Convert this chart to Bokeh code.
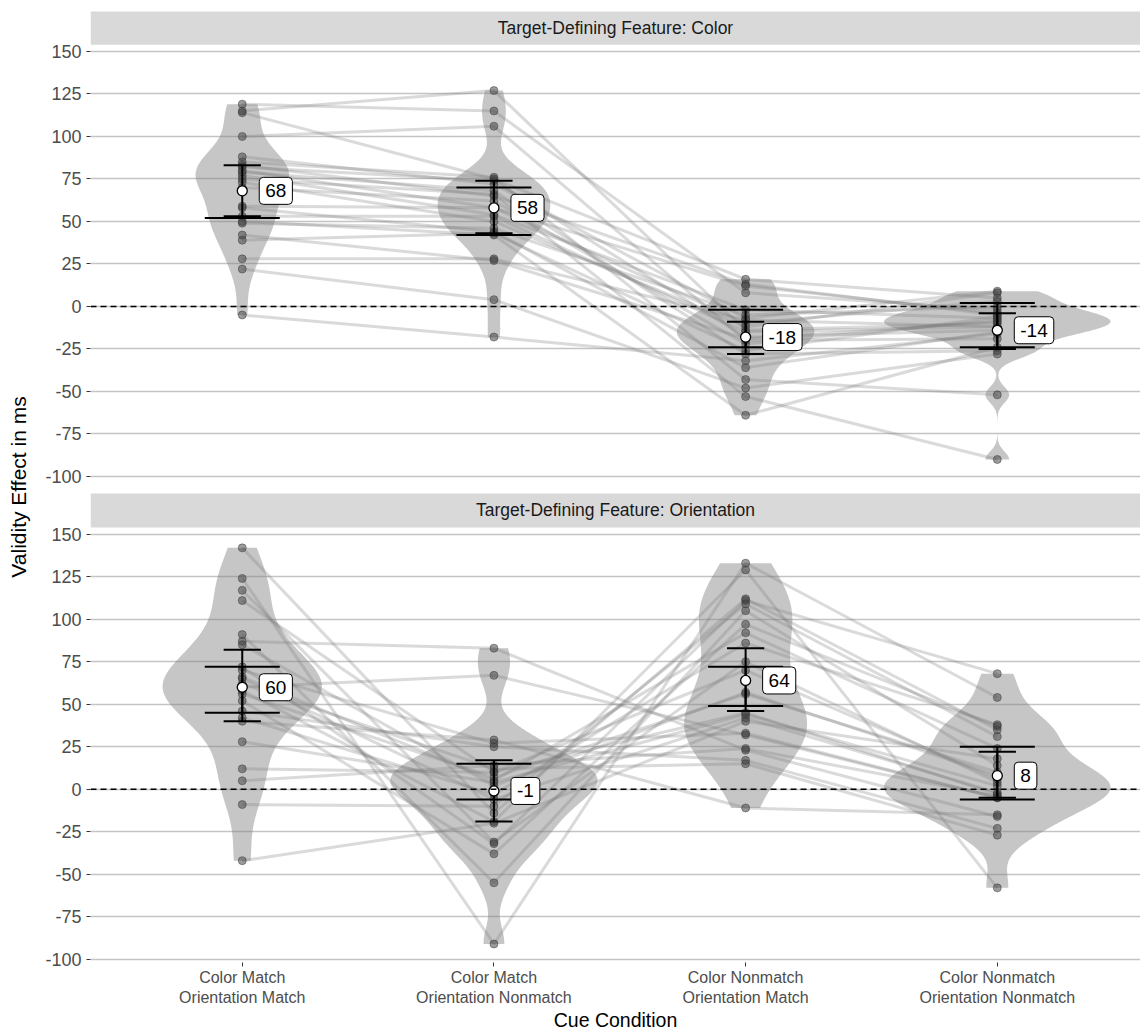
import numpy as np
from bokeh.plotting import figure
from bokeh.models import Range1d, FixedTicker, Grid, BoxAnnotation, Span, Label
from bokeh.embed import file_html
from bokeh.resources import INLINE

# ---------------------------------------------------------------- data
conditions = [
    "Color Match\nOrientation Match",
    "Color Match\nOrientation Nonmatch",
    "Color Nonmatch\nOrientation Match",
    "Color Nonmatch\nOrientation Nonmatch",
]
panel_titles = ["Target-Defining Feature: Color", "Target-Defining Feature: Orientation"]

# validity effect (ms) per participant; same participant order in every list
color_cm_om = [119, 115, 114, 100, 88, 85, 83, 82, 80, 79, 77, 75, 73, 70, 59, 58, 53, 50, 49, 42, 39, 28, 22, -5]
color_cm_on = [115, 127, 75, 106, 72, 76, 65, 74, 58, 68, 54, 66, 50, 62, 58, 44, 53, 42, 46, 27, 43, 28, 4, -18]
color_cn_om = [8, -14, 16, -20, -7, -43, 13, -18, -10, -28, -2, -53, -12, -22, 12, -36, -15, -64, -5, -19, -26, -8, -48, -32]
color_cn_on = [-2, -10, 5, -19, 9, -52, -5, -14, 3, -26, -7, -90, 8, -8, -4, -15, -12, -24, 0, -9, -6, -12, -28, -16]

orient_cm_om = [142, 124, 117, 111, 91, 87, 85, 72, 70, 66, 65, 62, 60, 58, 56, 52, 46, 42, 40, 28, 12, 5, -9, -42]
orient_cm_on = [-14, -91, -31, 10, -55, 83, 2, -32, 27, 5, -6, 12, 67, -19, 7, -38, 25, -3, 29, 4, 10, 14, -10, -20]
orient_cn_om = [112, 133, 75, 45, 105, 23, 57, 111, 33, 92, 42, 15, 32, 129, 56, 97, 17, 86, -11, 44, 70, 24, 109, 40]
orient_cn_on = [35, 54, 4, -3, 14, -16, 8, 68, -5, 24, -2, -27, -5, -58, 10, 37, -23, 38, -15, 2, 6, -4, 31, 18]

# condition means and two interval estimates (wide / narrow whiskers)
color_means = [68, 58, -18, -14]
color_wide_lo = [52, 42, -24, -24]
color_wide_hi = [float("nan"), 70, -2, 2]
color_narrow_lo = [53, 43, -28, -25]
color_narrow_hi = [83, 74, -9, -4]

orient_means = [60, -1, 64, 8]
orient_wide_lo = [45, -6, 49, -6]
orient_wide_hi = [72, 15, 72, 25]
orient_narrow_lo = [40, -19, 46, -5]
orient_narrow_hi = [82, 17, 83, 22]

y_ticks = [-100, -75, -50, -25, 0, 25, 50, 75, 100, 125, 150]

# ---------------------------------------------------------------- layout
FONT = "Liberation Sans"
cats = [1, 2, 3, 4]
PANEL_SHIFT = 284          # lower panel sits this many units below the upper one
STRIP_LO, STRIP_HI = 154, 174
X_LO, X_HI = 0.397, 4.569

p = figure(width=1140, height=1034,
           x_range=Range1d(X_LO, X_HI),
           y_range=Range1d(-385.9, 173.5),
           output_backend="svg", toolbar_location=None,
           min_border_left=90, min_border_right=0,
           min_border_top=11, min_border_bottom=72)
p.extra_y_ranges = {"lower": Range1d(-385.9 + PANEL_SHIFT, 173.5 + PANEL_SHIFT)}
p.outline_line_color = None
p.xgrid.visible = False
p.ygrid.visible = False
p.background_fill_color = "white"

# axes
p.yaxis.ticker = FixedTicker(ticks=y_ticks + [t - PANEL_SHIFT for t in y_ticks])
overrides = {t: str(t) for t in y_ticks}
overrides.update({t - PANEL_SHIFT: str(t) for t in y_ticks})
p.yaxis.major_label_overrides = overrides
p.xaxis.ticker = FixedTicker(ticks=cats)
p.xaxis.major_label_overrides = {c: lab for c, lab in zip(cats, conditions)}
for ax in (p.xaxis, p.yaxis):
    ax.axis_line_color = None
    ax.major_tick_line_color = "#333333"
    ax.major_tick_in = 0
    ax.major_tick_out = 4
    ax.minor_tick_line_color = None
    ax.major_label_text_font = FONT
    ax.major_label_text_color = "#4D4D4D"
    ax.axis_label_text_font = FONT
    ax.axis_label_text_font_style = "normal"
    ax.axis_label_text_color = "black"
p.yaxis.major_label_text_font_size = "18px"
p.yaxis.major_label_standoff = 5
p.yaxis.axis_label = "Validity Effect in ms"
p.yaxis.axis_label_text_font_size = "21px"
p.yaxis.axis_label_standoff = 12
p.xaxis.major_label_text_font_size = "16px"
p.xaxis.major_label_standoff = 2
p.xaxis.axis_label = "Cue Condition"
p.xaxis.axis_label_text_font_size = "19.5px"
p.xaxis.axis_label_standoff = 0


def violin(vals):
    v = np.asarray(vals, dtype=float)
    n = len(v)
    iqr = np.subtract(*np.percentile(v, [75, 25]))
    bw = 0.9 * min(v.std(ddof=1), iqr / 1.34) * n ** -0.2
    grid = np.linspace(v.min(), v.max(), 256)
    dens = np.exp(-0.5 * ((grid[:, None] - v[None, :]) / bw) ** 2).sum(1) / (n * bw * np.sqrt(2 * np.pi))
    return grid, dens


panels = [
    (None, panel_titles[0], [color_cm_om, color_cm_on, color_cn_om, color_cn_on],
     color_means, color_wide_lo, color_wide_hi, color_narrow_lo, color_narrow_hi),
    ("lower", panel_titles[1], [orient_cm_om, orient_cm_on, orient_cn_om, orient_cn_on],
     orient_means, orient_wide_lo, orient_wide_hi, orient_narrow_lo, orient_narrow_hi),
]

for rng, title, groups, means, wlo, whi, nlo, nhi in panels:
    kw = {"y_range_name": rng} if rng else {}

    # horizontal grid lines
    p.add_layout(Grid(dimension=1, ticker=FixedTicker(ticks=y_ticks),
                      grid_line_color="#C4C4C4", grid_line_width=1.4, **kw))

    # facet strip
    p.add_layout(BoxAnnotation(bottom=STRIP_LO, top=STRIP_HI, fill_color="#D9D9D9",
                               fill_alpha=1, line_color=None, level="underlay", **kw))
    p.add_layout(Label(x=(X_LO + X_HI) / 2, y=(STRIP_LO + STRIP_HI) / 2, text=title,
                       text_align="center", text_baseline="middle", text_font=FONT,
                       text_font_size="17.5px", text_color="#1A1A1A", **kw))

    # violins (density scaled to the widest one in the panel)
    dens_all = [violin(g) for g in groups]
    dmax = max(d.max() for _, d in dens_all)
    xs, ys = [], []
    for c, (grid, d) in zip(cats, dens_all):
        hw = 0.45 * d / dmax
        xs.append(list(c - hw) + list(c + hw[::-1]))
        ys.append(list(grid) + list(grid[::-1]))
    p.patches(xs, ys, fill_color="#808080", fill_alpha=0.45, line_color=None, **kw)

    # participant lines
    n = len(groups[0])
    p.multi_line([cats] * n, [[g[i] for g in groups] for i in range(n)],
                 line_color="#7A7A7A", line_alpha=0.28, line_width=3, **kw)

    # participant points
    px = [c for c, g in zip(cats, groups) for _ in g]
    py = [v for g in groups for v in g]
    p.scatter(px, py, size=8, fill_color="#3C3C3C", fill_alpha=0.5,
              line_color="#3C3C3C", line_alpha=0.5, **kw)

    # zero reference
    p.add_layout(Span(location=0, dimension="width", line_color="black",
                      line_dash="6 4", line_width=1.6, **kw))

    # interval whiskers
    for lo, hi, half in ((wlo, whi, 0.149), (nlo, nhi, 0.074)):
        p.segment(cats, lo, cats, hi, line_color="black", line_width=2, **kw)
        p.segment([c - half for c in cats], lo, [c + half for c in cats], lo,
                  line_color="black", line_width=2, **kw)
        p.segment([c - half for c in cats], hi, [c + half for c in cats], hi,
                  line_color="black", line_width=2, **kw)

    # means and their labels
    p.scatter(cats, means, size=10, fill_color="white", line_color="black",
              line_width=1.3, **kw)
    for c, m in zip(cats, means):
        p.add_layout(Label(x=c, y=m, text=str(m), x_offset=17, text_align="left",
                           text_baseline="middle", text_font=FONT, text_font_size="19px",
                           text_color="black", background_fill_color="white",
                           border_line_color="black", border_line_width=1,
                           padding=(6, 7), border_radius=4, **kw))

open("out.html", "w").write(file_html(p, INLINE))
